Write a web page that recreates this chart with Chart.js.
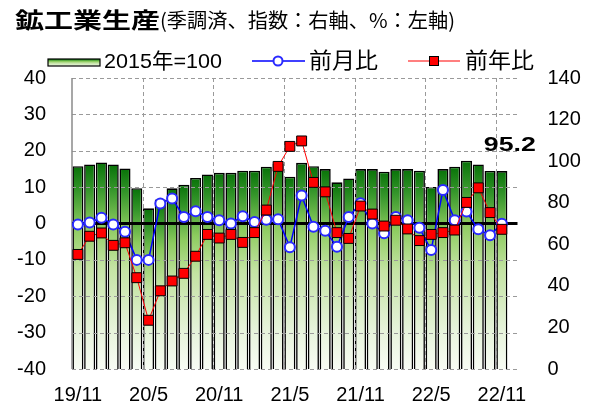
<!DOCTYPE html>
<html>
<head>
<meta charset="utf-8">
<script src="https://cdn.jsdelivr.net/npm/chart.js@4"></script>
<style>
  body { margin: 0; background: #fff; }
</style>
</head>
<body>
<canvas id="myChart" width="592" height="405"></canvas>
<script>
var months = ['19/11','19/12','20/1','20/2','20/3','20/4','20/5','20/6','20/7','20/8','20/9','20/10',
              '20/11','20/12','21/1','21/2','21/3','21/4','21/5','21/6','21/7','21/8','21/9','21/10',
              '21/11','21/12','22/1','22/2','22/3','22/4','22/5','22/6','22/7','22/8','22/9','22/10','22/11'];
// 指数 (2015年=100, right axis)
var indexVals = [97.6, 98.4, 99.4, 98.4, 96.5, 87.0, 77.3, 81.5, 86.9, 88.7, 91.9, 93.6,
                 94.4, 94.4, 95.4, 95.4, 97.3, 98.8, 92.5, 99.2, 97.6, 96.2, 89.8, 91.7,
                 96.2, 96.2, 94.9, 96.2, 96.2, 95.4, 87.6, 96.2, 97.3, 100.2, 98.4, 95.3, 95.2];
// 前月比 (%)
var momVals = [-0.3, 0.3, 1.6, -0.3, -2.3, -10.0, -10.0, 5.5, 6.9, 1.8, 3.4, 1.8,
               0.9, 0.0, 2.0, 0.4, 1.0, 1.2, -6.5, 7.7, -0.9, -2.0, -6.4, 1.8,
               5.6, 0.0, -2.7, 1.8, 0.9, -1.2, -7.3, 9.2, 0.9, 3.3, -1.6, -3.2, -0.1];
// 前年比 (%)
var yoyVals = [-8.5, -3.5, -2.6, -6.0, -5.3, -14.9, -26.6, -18.5, -15.8, -13.7, -9.0, -3.0,
               -4.0, -3.0, -5.2, -2.5, 3.7, 15.7, 21.2, 22.7, 11.3, 8.7, -2.5, -4.1,
               4.8, 2.6, -0.7, 0.9, -1.5, -4.7, -3.0, -2.5, -1.8, 5.8, 9.8, 3.0, -1.6];
var leftTicks = [-40, 40, 10];   // min, max, step
var rightTicks = [0, 140, 20];

var FONT = "'Liberation Sans', 'Noto Sans CJK JP', sans-serif";
var CJK = "'Noto Sans CJK JP', sans-serif";

function barGradient(c, top, bot){
    var g = c.createLinearGradient(0, top, 0, bot);
    g.addColorStop(0, '#087208');
    g.addColorStop(0.12, '#34952a');
    g.addColorStop(0.3, '#8ccb5e');
    g.addColorStop(0.5, '#c3e3a2');
    g.addColorStop(0.8, '#e6f3da');
    g.addColorStop(1, '#f8fcf4');
    return g;
}

// text squeezed/stretched to a given width
function fitText(c, txt, x, y, w, font){
    c.save();
    c.font = font;
    var m = c.measureText(txt).width;
    c.translate(x, y);
    c.scale(w / m, 1);
    c.textAlign = 'left';
    c.textBaseline = 'middle';
    c.fillStyle = '#000';
    c.fillText(txt, 0, 0);
    c.restore();
}

var decor = {
    id: 'decor',
    afterDatasetDraw: function(chart, args){
        if (args.index !== 0) return;
        var c = chart.ctx, a = chart.chartArea, y = chart.scales.y, x = chart.scales.x;
        c.save();
        // dashed grid
        c.strokeStyle = '#9a9a9a';
        c.lineWidth = 1;
        c.setLineDash([4, 3]);
        y.ticks.forEach(function(t){
            if (t.value === 0) return;
            var py = Math.round(y.getPixelForValue(t.value)) + 0.5;
            c.beginPath(); c.moveTo(a.left, py); c.lineTo(a.right, py); c.stroke();
        });
        for (var i = 6; i < months.length; i += 6) {
            var px = Math.round((x.getPixelForValue(i - 1) + x.getPixelForValue(i)) / 2) + 0.5;
            c.beginPath(); c.moveTo(px, a.top); c.lineTo(px, a.bottom); c.stroke();
        }
        c.setLineDash([]);
        // left border
        c.strokeStyle = '#8a8a8a';
        c.lineWidth = 1.5;
        c.beginPath(); c.moveTo(a.left, a.top); c.lineTo(a.left, a.bottom); c.stroke();
        // zero line
        var zy = y.getPixelForValue(0);
        c.strokeStyle = '#000';
        c.lineWidth = 3;
        c.beginPath(); c.moveTo(a.left, zy); c.lineTo(a.right - 2, zy); c.stroke();
        c.restore();
    },
    afterDraw: function(chart){
        var c = chart.ctx;
        // title
        fitText(c, '鉱工業生産', 15, 20, 145, 'bold 22px ' + CJK);
        fitText(c, '(季調済、指数：右軸、%：左軸)', 160, 20, 295, '20px ' + CJK);
        // legend
        c.save();
        c.fillStyle = barGradient(c, 59, 67);
        c.fillRect(48, 59, 52, 7);
        c.strokeStyle = '#000'; c.lineWidth = 1.2;
        c.strokeRect(48, 59, 52, 7);
        c.restore();
        fitText(c, '2015年=100', 104, 62, 118, '21px ' + FONT);

        c.save();
        c.strokeStyle = '#0000ff'; c.lineWidth = 1.5;
        c.beginPath(); c.moveTo(252, 61); c.lineTo(305, 61); c.stroke();
        c.fillStyle = '#fff'; c.strokeStyle = '#2a2aff'; c.lineWidth = 2;
        c.beginPath(); c.arc(278, 61, 4.5, 0, Math.PI * 2); c.fill(); c.stroke();
        c.restore();
        fitText(c, '前月比', 309, 60, 69, '22px ' + CJK);

        c.save();
        c.strokeStyle = '#ff0000'; c.lineWidth = 1.2;
        c.beginPath(); c.moveTo(408, 61); c.lineTo(460, 61); c.stroke();
        c.fillStyle = '#ff0000'; c.fillRect(429, 56, 10, 10);
        c.strokeStyle = '#000'; c.lineWidth = 1;
        c.strokeRect(429.5, 56.5, 9, 9);
        c.restore();
        fitText(c, '前年比', 465, 60, 69, '22px ' + CJK);

        // latest value label
        var meta = chart.getDatasetMeta(0);
        var last = meta.data[indexVals.length - 1];
        var txt = indexVals[indexVals.length - 1].toFixed(1);
        fitText(c, txt, last.x - 18, last.y - 26, 52, 'bold 20px ' + FONT);
    }
};

var ctx = document.getElementById('myChart');
var myChart = new Chart(ctx, {
    type: 'bar',
    data: {
        labels: months.concat(['']),
        datasets: [{
            label: '2015年=100',
            data: indexVals,
            yAxisID: 'y1',
            order: 2,
            backgroundColor: function(context){
                var chart = context.chart;
                if (!chart.chartArea || context.type !== 'data') return '#5cb338';
                var s = chart.scales.y1;
                return barGradient(chart.ctx, s.getPixelForValue(context.raw), s.getPixelForValue(0));
            },
            borderColor: '#000',
            borderWidth: 1.6,
            barPercentage: 0.94,
            categoryPercentage: 1
        }, {
            type: 'line',
            label: '前月比',
            data: momVals,
            yAxisID: 'y',
            order: 1,
            borderColor: '#0000ff',
            borderWidth: 1.5,
            tension: 0,
            pointRadius: 5,
            pointBackgroundColor: '#fff',
            pointBorderColor: '#2a2aff',
            pointBorderWidth: 2
        }, {
            type: 'line',
            label: '前年比',
            data: yoyVals,
            yAxisID: 'y',
            order: 0,
            borderColor: '#ff0000',
            borderWidth: 1,
            tension: 0,
            pointStyle: 'rect',
            pointRadius: 7,
            pointBackgroundColor: '#ff0000',
            pointBorderColor: '#000',
            pointBorderWidth: 1
        }]
    },
    options: {
        responsive: false,
        animation: false,
        layout: { padding: { top: 78, left: 0, right: 0, bottom: 0 } },
        plugins: { legend: { display: false }, tooltip: { enabled: false } },
        scales: {
            x: {
                grid: { display: false },
                border: { display: false },
                ticks: {
                    autoSkip: false, maxRotation: 0, padding: 6,
                    color: '#000',
                    font: { family: FONT, size: 20 },
                    callback: function(v, i){ return i % 6 === 0 ? this.getLabelForValue(v) : ''; }
                },
                afterFit: function(s){ s.height = 36; }
            },
            y: {
                position: 'left',
                min: leftTicks[0], max: leftTicks[1],
                grid: { display: false },
                border: { display: false },
                ticks: { stepSize: leftTicks[2], padding: 18, color: '#000', font: { family: FONT, size: 20 } },
                afterFit: function(s){ s.width = 72; }
            },
            y1: {
                position: 'right',
                min: rightTicks[0], max: rightTicks[1],
                grid: { display: false },
                border: { display: false },
                ticks: { stepSize: rightTicks[2], padding: 20, color: '#000', font: { family: FONT, size: 20 } },
                afterFit: function(s){ s.width = 72.5; }
            }
        }
    },
    plugins: [decor]
});
</script>
</body>
</html>
